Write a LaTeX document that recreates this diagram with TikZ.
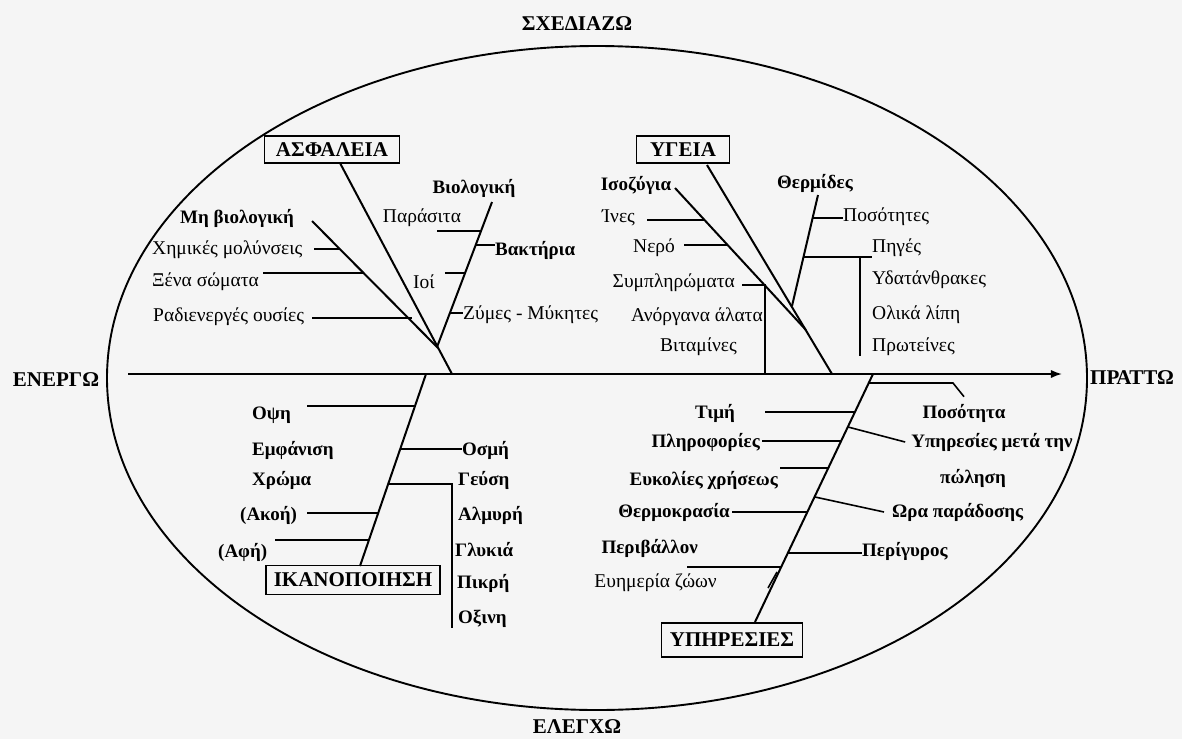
\documentclass[tikz,border=0pt]{standalone}
\usepackage{fontspec}
\setmainfont{Liberation Serif}
\usetikzlibrary{arrows.meta,shapes.geometric,calc}
\tikzset{
  >=Latex,
  rim/.style   ={draw, ellipse, line width=1.9pt, minimum width=980pt, minimum height=664pt, inner sep=0pt},
  hdr/.style   ={font=\fontsize{21}{23}\selectfont\bfseries, inner sep=0pt},
  cat/.style   ={draw, line width=1.7pt, font=\fontsize{21}{23}\selectfont\bfseries, minimum height=27pt, inner sep=0pt},
  lbl/.style   ={font=\fontsize{19.5}{21}\selectfont, inner sep=0pt},
  lblb/.style  ={font=\fontsize{19}{21}\selectfont\bfseries, inner sep=0pt},
  axis/.style  ={->, line width=1.8pt},
  bone/.style  ={line width=2pt},
  twig/.style  ={line width=1.6pt},
}

\begin{document}
\begin{tikzpicture}[x=1pt, y=-1pt]
  \fill[black!4] (0,0) rectangle (1182,739);
  \useasboundingbox (0,0) rectangle (1182,739);

  % frame and axis
  \node[rim] (rim) at (597,378) {};
  \node[hdr] (sxed) at (577,24)  {ΣΧΕΔΙΑΖΩ};
  \node[hdr] (eleg) at (577,727) {ΕΛΕΓΧΩ};
  \node[hdr] (ener) at (56,380)  {ΕΝΕΡΓΩ};
  \node[hdr] (prat) at (1132,378) {ΠΡΑΤΤΩ};
  \coordinate (axL) at (128,374);
  \coordinate (axR) at (1062,374);
  \draw[axis] (axL) -- (axR);

  % categories
  \node[cat, minimum width=135pt] (asf)  at (332,149.5) {ΑΣΦΑΛΕΙΑ};
  \node[cat, minimum width=93pt]  (yge)  at (683,149.5) {ΥΓΕΙΑ};
  \node[cat, minimum width=174pt, minimum height=29pt] (ikan) at (353,580) {ΙΚΑΝΟΠΟΙΗΣΗ};
  \node[cat, minimum width=141pt, minimum height=34pt] (ypir) at (732,640) {ΥΠΗΡΕΣΙΕΣ};

  % bone points
  \coordinate (asfT) at (340,163);  \coordinate (asfB) at (452,374);
  \coordinate (vA)   at (437,347);
  \coordinate (mhbT) at (312,221);  \coordinate (bioT) at (492,202);
  \coordinate (ygT)  at (707,165);  \coordinate (ygB)  at (832,374);
  \coordinate (isoT) at (675,188);  \coordinate (isoB) at (806,330);
  \coordinate (therT) at (818,195); \coordinate (therB) at (792,306);
  \coordinate (ikT)  at (426,374);  \coordinate (ikB)  at (360,566);
  \coordinate (ypT)  at (873,374);  \coordinate (ypB)  at (755,622);

  % joints
  \coordinate (chemJ) at (340,249); \coordinate (xenJ) at (364,273);
  \coordinate (radJ)  at (412,318);
  \coordinate (parJ)  at (481,231); \coordinate (baktJ) at (476,245);
  \coordinate (ioiJ)  at (465,273); \coordinate (zymJ) at (450,313);
  \coordinate (inesJ) at (704,220); \coordinate (nerJ) at (727,245);
  \coordinate (sympJ) at (765,285);
  \coordinate (posJ)  at (813,218); \coordinate (pigJ) at (804,257);
  \coordinate (pigK)  at (860,257);
  \coordinate (opsJ)  at (415,406); \coordinate (emfJ) at (400,449);
  \coordinate (xrJ)   at (388,484); \coordinate (xrK)  at (452,484);
  \coordinate (akoJ)  at (378,513); \coordinate (afiJ) at (369,540);
  \coordinate (posaJ) at (869,383); \coordinate (posaK) at (953,383);
  \coordinate (timJ)  at (855,412); \coordinate (ypmJ) at (848,427);
  \coordinate (plirJ) at (841,441); \coordinate (efkJ) at (828,468);
  \coordinate (oraJ)  at (815,497); \coordinate (thermJ) at (807,512);
  \coordinate (perigJ) at (788,553); \coordinate (periJ) at (781,567);
  \coordinate (evA)   at (768,588); \coordinate (evB)  at (777,572);

  % labels
  \node[lblb, anchor=west] (mhb)  at (180,218) {Μη βιολογική};
  \node[lbl, anchor=west]  (chem) at (152,250) {Χημικές μολύνσεις};
  \node[lbl, anchor=west]  (xen)  at (152,282) {Ξένα σώματα};
  \node[lbl, anchor=west]  (rad)  at (153,317) {Ραδιενεργές ουσίες};
  \node[lblb] (bio) at (474,188) {Βιολογική};
  \node[lbl]  (par) at (422,218) {Παράσιτα};
  \node[lblb, anchor=west] (bakt) at (495,250) {Βακτήρια};
  \node[lbl, anchor=west]  (ioi)  at (413,282) {Ιοί};
  \node[lbl, anchor=west]  (zym)  at (463,315) {Ζύμες - Μύκητες};

  \node[lblb] (iso) at (636,185) {Ισοζύγια};
  \node[lbl, anchor=west] (ines) at (602,218) {Ίνες};
  \node[lbl, anchor=west] (ner)  at (633,248) {Νερό};
  \node[lbl, anchor=east] (symp) at (735,283) {Συμπληρώματα};
  \node[lbl, anchor=east] (anor) at (763,317) {Ανόργανα άλατα};
  \node[lbl, anchor=east] (vit)  at (737,347) {Βιταμίνες};
  \node[lblb] (ther) at (815,183) {Θερμίδες};
  \node[lbl, anchor=west] (posot) at (843,217) {Ποσότητες};
  \node[lbl, anchor=west] (pig)  at (872,248) {Πηγές};
  \node[lbl, anchor=west] (ydat) at (872,280) {Υδατάνθρακες};
  \node[lbl, anchor=west] (olik) at (872,315) {Ολικά λίπη};
  \node[lbl, anchor=west] (prot) at (872,347) {Πρωτείνες};

  \node[lblb, anchor=west] (opsi) at (252,415) {Οψη};
  \node[lblb, anchor=west] (emf)  at (252,450) {Εμφάνιση};
  \node[lblb, anchor=west] (xrom) at (252,480) {Χρώμα};
  \node[lblb, anchor=west] (akoi) at (240,515) {(Ακοή)};
  \node[lblb, anchor=west] (afi)  at (218,552) {(Αφή)};
  \node[lblb, anchor=west] (osmi) at (462,450) {Οσμή};
  \node[lblb, anchor=west] (geus) at (458,480) {Γεύση};
  \node[lblb, anchor=west] (almy) at (458,515) {Αλμυρή};
  \node[lblb, anchor=west] (glyk) at (455,550) {Γλυκιά};
  \node[lblb, anchor=west] (pikr) at (457,583) {Πικρή};
  \node[lblb, anchor=west] (oxin) at (458,619) {Οξινη};

  \node[lblb, anchor=east] (tim)   at (735,413) {Τιμή};
  \node[lblb, anchor=east] (plir)  at (760,442) {Πληροφορίες};
  \node[lblb, anchor=east] (efk)   at (778,480) {Ευκολίες χρήσεως};
  \node[lblb, anchor=east] (therm) at (730,512) {Θερμοκρασία};
  \node[lblb, anchor=east] (periv) at (698,548) {Περιβάλλον};
  \node[lbl, anchor=east]  (evim)  at (717,583) {Ευημερία ζώων};
  \node[lblb] (posa) at (964,413) {Ποσότητα};
  \node[lblb] (ypm1) at (992,442) {Υπηρεσίες μετά την};
  \node[lblb] (ypm2) at (973,478) {πώληση};
  \node[lblb, anchor=west] (ora)   at (892,512) {Ωρα παράδοσης};
  \node[lblb, anchor=west] (perig) at (862,551) {Περίγυρος};

  % bones
  \draw[bone] (asfT) -- (asfB);
  \draw[bone] (mhbT) -- (vA) -- (bioT);
  \draw[bone] (ygT) -- (ygB);
  \draw[bone] (isoT) -- (isoB);
  \draw[bone] (therT) -- (therB);
  \draw[bone] (ikT) -- (ikB);
  \draw[bone] (ypT) -- (ypB);

  % twigs
  \draw[twig] (chem.east |- chemJ) ++(12,0) -- (chemJ);
  \draw[twig] (xen.east |- xenJ) ++(4,0) -- (xenJ);
  \draw[twig] (rad.east |- radJ) ++(8,0) -- (radJ);
  \draw[twig] (par.east |- parJ) ++(-24,0) -- (parJ);
  \draw[twig] (baktJ) -- (bakt.west |- baktJ);
  \draw[twig] (ioi.east |- ioiJ) ++(10,0) -- (ioiJ);
  \draw[twig] (zymJ) -- (zym.west |- zymJ);
  \draw[twig] (ines.east |- inesJ) ++(12,0) -- (inesJ);
  \draw[twig] (ner.east |- nerJ) ++(9,0) -- (nerJ);
  \draw[twig] (symp.east |- sympJ) ++(7,0) -- (sympJ) -- (sympJ |- axL);
  \draw[twig] (posJ) -- (posot.west |- posJ);
  \draw[twig] (pigJ) -- (pig.west |- pigJ);
  \draw[twig] (pigK) -- (pigK |- prot.south);
  \draw[twig] (opsi.east |- opsJ) ++(16,0) -- (opsJ);
  \draw[twig] (emfJ) -- (osmi.west |- emfJ);
  \draw[twig] (xrJ) -- (xrK) -- (xrK |- oxin.south);
  \draw[twig] (akoi.east |- akoJ) ++(10,0) -- (akoJ);
  \draw[twig] (afi.east |- afiJ) ++(8,0) -- (afiJ);
  \draw[twig] (posaJ) -- (posaK) -- ([yshift=7pt]posa.north);
  \draw[twig] (tim.east |- timJ) ++(30,0) -- (timJ);
  \draw[twig] (ypmJ) -- ([xshift=-6pt]ypm1.west);
  \draw[twig] (plir.east |- plirJ) ++(2,0) -- (plirJ);
  \draw[twig] (efk.east |- efkJ) ++(2,0) -- (efkJ);
  \draw[twig] (oraJ) -- ([xshift=-8pt]ora.west);
  \draw[twig] (therm.east |- thermJ) ++(2,0) -- (thermJ);
  \draw[twig] (periv.east |- periJ) ++(-11,0) -- (periJ);
  \draw[twig] (perigJ) -- (perig.west |- perigJ);
  \draw[twig] (evA) -- (evB);
\end{tikzpicture}
\end{document}
